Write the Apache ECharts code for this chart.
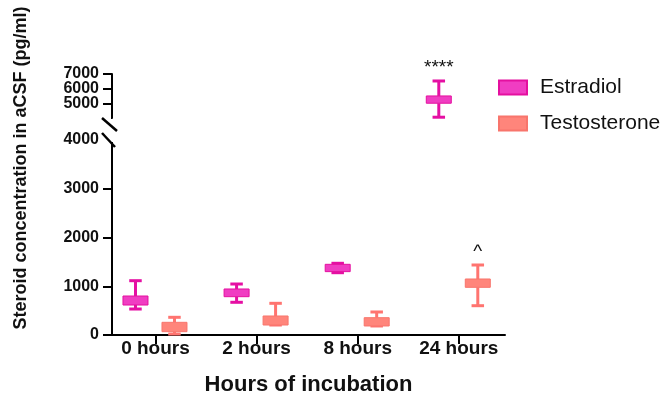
<!DOCTYPE html>
<html><head><meta charset="utf-8">
<script src="https://cdn.jsdelivr.net/npm/echarts@6/dist/echarts.min.js"></script>
<style>html,body{margin:0;padding:0;background:#fff}#c{width:664px;height:410px}</style>
</head><body><div id="c"></div>
<script>
// ---- data ----
const categories = ['0 hours', '2 hours', '8 hours', '24 hours'];
// each item: [min, q1, median, q3, max]  (pg/ml)
const estradiol = [
  [533, 615, 710, 800, 1114],
  [671, 786, 865, 944, 1046],
  [1278, 1300, 1380, 1450, 1471],
  [4054, 5007, 5250, 5503, 6524]
];
const testosterone = [
  [20, 68, 160, 260, 363],
  [205, 205, 300, 390, 650],
  [185, 185, 270, 355, 472],
  [601, 978, 1060, 1149, 1436]
];
const lowerTicks = [0, 1000, 2000, 3000, 4000];
const upperTicksOuter = [5000, 7000];
const upperTicksMiddle = [6000];
const annotations = [
  { series: 'Estradiol', cat: 3, text: '****' },
  { series: 'Testosterone', cat: 3, text: '^' }
];

// ---- layout / style ----
const BREAK = 4000;
const gridL = 112, gridR = 664 - 505;
const font = 'Arial, "Liberation Sans", sans-serif';
const styles = {
  Estradiol: { off: -20, fill: '#F03DC2', border: '#E4109F', whisk: '#E50FA3' },
  Testosterone: { off: 19, fill: '#FF857B', border: '#F8756C', whisk: '#FF7470' }
};

function toData(arr, keep) {
  const out = [];
  arr.forEach((d, i) => { if (keep(d)) out.push([i].concat(d)); });
  return out;
}

function makeRender(name) {
  const s = styles[name];
  return function (params, api) {
    const x = api.value(0);
    const p = v => api.coord([x, v]);
    const lo = p(api.value(1)), q1 = p(api.value(2)), q3 = p(api.value(4)), hi = p(api.value(5));
    const cx = lo[0] + s.off;
    const bw = 25, cw = 12.5, lw = 3;
    const children = [
      { type: 'line', shape: { x1: cx, y1: hi[1], x2: cx, y2: q3[1] }, style: { stroke: s.whisk, lineWidth: lw } },
      { type: 'line', shape: { x1: cx, y1: q1[1], x2: cx, y2: lo[1] }, style: { stroke: s.whisk, lineWidth: lw } },
      { type: 'line', shape: { x1: cx - cw / 2, y1: hi[1], x2: cx + cw / 2, y2: hi[1] }, style: { stroke: s.whisk, lineWidth: lw } },
      { type: 'line', shape: { x1: cx - cw / 2, y1: lo[1], x2: cx + cw / 2, y2: lo[1] }, style: { stroke: s.whisk, lineWidth: lw } },
      { type: 'rect', shape: { x: cx - bw / 2, y: q3[1], width: bw, height: q1[1] - q3[1] }, style: { fill: s.fill, stroke: s.border, lineWidth: 1 } }
    ];
    annotations.forEach(a => {
      if (a.series === name && a.cat === x) {
        children.push({ type: 'text', style: { text: a.text, x: cx, y: hi[1] - 4, align: 'center', verticalAlign: 'bottom', font: '19px ' + font, fill: '#111' } });
      }
    });
    return { type: 'group', children };
  };
}

function series(name, arr, gridIdx) {
  const keep = gridIdx === 0 ? (d => d[4] <= BREAK) : (d => d[0] >= BREAK);
  return {
    type: 'custom', name, xAxisIndex: gridIdx, yAxisIndex: gridIdx,
    renderItem: makeRender(name),
    itemStyle: { color: styles[name].fill, borderColor: styles[name].border, borderWidth: 1 },
    encode: { x: 0, y: [1, 2, 3, 4, 5] },
    data: toData(arr, keep), clip: false, silent: true
  };
}

const axisLineStyle = { color: '#000', width: 2 };
const tick = { show: true, inside: false, length: 9, lineStyle: { color: '#000', width: 2 } };
const xCommon = {
  type: 'value', min: -0.43, max: 3.457,
  splitLine: { show: false }
};
const yLabel = {
  fontSize: 16, fontWeight: 'bold', color: '#111', fontFamily: font, margin: 13,
  formatter: v => String(v)
};

const chart = echarts.init(document.getElementById('c'), null, { renderer: 'canvas' });
chart.setOption({
  animation: false,
  backgroundColor: '#fff',
  grid: [
    { left: gridL, right: gridR, top: 140, bottom: 75 },
    { left: gridL, right: gridR, top: 74, height: 44 }
  ],
  xAxis: [
    Object.assign({}, xCommon, {
      gridIndex: 0,
      axisLine: { onZero: false, lineStyle: axisLineStyle },
      axisTick: { length: 9, lineStyle: axisLineStyle, customValues: [0, 1, 2, 3] },
      axisLabel: { customValues: [0, 1, 2, 3], formatter: v => categories[Math.round(v)], fontSize: 19, fontWeight: 'bold', color: '#111', fontFamily: font, margin: 4 },
      name: 'Hours of incubation', nameLocation: 'middle', nameGap: 39,
      nameTextStyle: { fontSize: 22, fontWeight: 'bold', color: '#111', fontFamily: font }
    }),
    Object.assign({}, xCommon, { gridIndex: 1, show: false, axisLine: { onZero: false } })
  ],
  yAxis: [
    {
      type: 'value', gridIndex: 0, min: 0, max: 4000, interval: 1000,
      axisLine: { show: true, onZero: false, lineStyle: axisLineStyle },
      axisTick: tick,
      axisLabel: Object.assign({ customValues: lowerTicks }, yLabel),
      splitLine: { show: false }
    },
    {
      type: 'value', gridIndex: 1, min: BREAK, max: 7000, interval: 1000,
      axisLine: { show: true, onZero: false, lineStyle: axisLineStyle },
      axisTick: tick,
      axisLabel: Object.assign({ customValues: upperTicksOuter, showMinLabel: true, showMaxLabel: true }, yLabel),
      splitLine: { show: false }
    },
    {
      type: 'value', gridIndex: 1, min: BREAK, max: 7000, interval: 1000, position: 'left', offset: 0,
      axisLine: { show: false, onZero: false },
      axisTick: { show: false },
      axisLabel: Object.assign({ customValues: upperTicksMiddle }, yLabel),
      splitLine: { show: false }
    }
  ],
  legend: {
    orient: 'vertical', left: 498, top: 77, padding: 0,
    itemWidth: 28, itemHeight: 14, itemGap: 15,
    icon: 'rect',
    textStyle: { fontSize: 21, color: '#111', fontFamily: font, padding: [0, 0, 0, 8] },
    data: ['Estradiol', 'Testosterone']
  },
  graphic: [
    { type: 'rect', shape: { x: 100, y: 116, width: 11, height: 5 }, style: { fill: '#fff' }, z: 5 },
    { type: 'rect', shape: { x: 100, y: 131, width: 17, height: 11 }, style: { fill: '#fff' }, z: 5 },
    { type: 'line', shape: { x1: 102, y1: 118, x2: 117, y2: 131 }, style: { stroke: '#000', lineWidth: 2.5 }, z: 6 },
    { type: 'line', shape: { x1: 102, y1: 133, x2: 115, y2: 147 }, style: { stroke: '#000', lineWidth: 2.5 }, z: 6 },
    {
      type: 'text', x: 21, y: 168, rotation: Math.PI / 2,
      style: { text: 'Steroid concentration in aCSF (pg/ml)', align: 'center', verticalAlign: 'middle', font: 'bold 18px ' + font, fill: '#111' }
    }
  ],
  series: [
    series('Estradiol', estradiol, 0),
    series('Estradiol', estradiol, 1),
    series('Testosterone', testosterone, 0),
    series('Testosterone', testosterone, 1)
  ]
});
</script>
</body></html>
